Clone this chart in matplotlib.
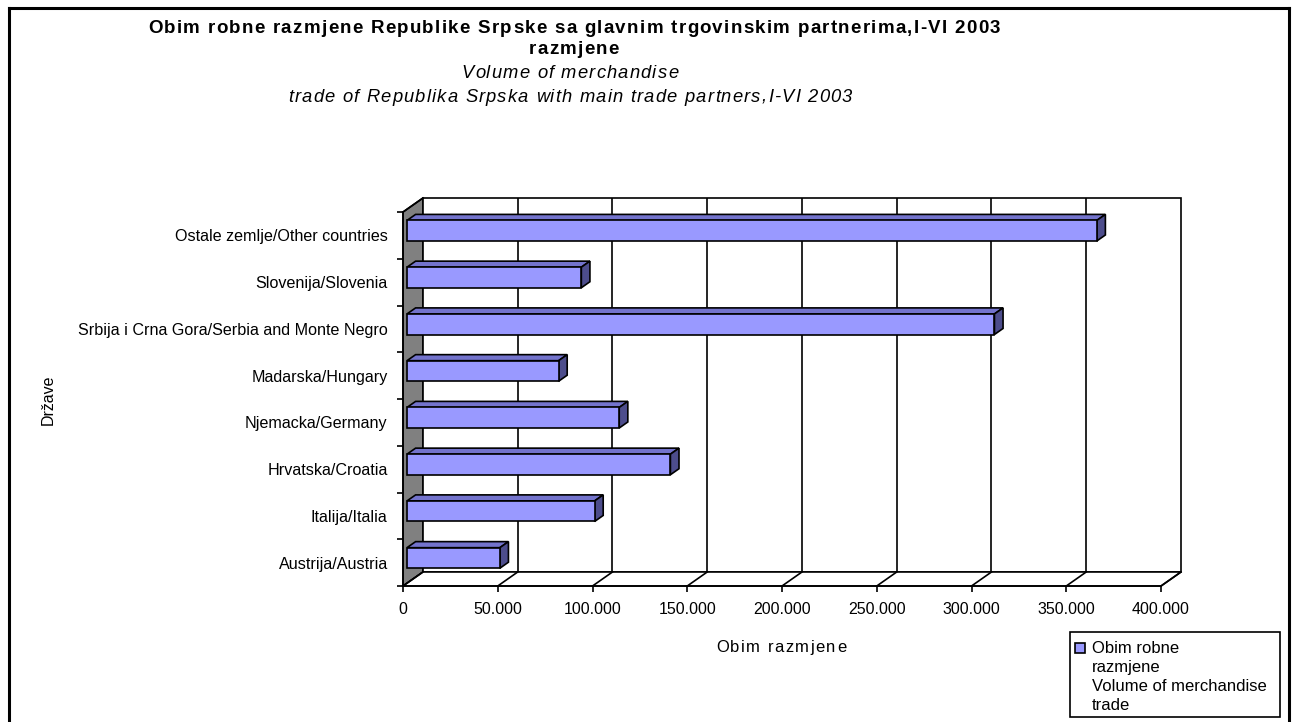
import matplotlib
matplotlib.use("Agg")
import matplotlib.pyplot as plt
from matplotlib.patches import Polygon, Rectangle
from matplotlib.lines import Line2D

plt.rcParams['font.family'] = ['Liberation Sans', 'DejaVu Sans']

# ---- data ----
categories = ["Austrija/Austria", "Italija/Italia", "Hrvatska/Croatia",
              "Njemacka/Germany", "Madarska/Hungary",
              "Srbija i Crna Gora/Serbia and Monte Negro",
              "Slovenija/Slovenia", "Ostale zemlje/Other countries"]
values = [49000, 99000, 139000, 112000, 80000, 310000, 92000, 364000]
xticks = [0, 50000, 100000, 150000, 200000, 250000, 300000, 350000, 400000]
xtick_labels = ["0", "50.000", "100.000", "150.000", "200.000", "250.000",
                "300.000", "350.000", "400.000"]
title_lines = ["Obim robne razmjene Republike Srpske sa glavnim trgovinskim partnerima,I-VI 2003",
               "razmjene"]
subtitle_lines = ["Volume of merchandise",
                  "trade of Republika Srpska with main trade partners,I-VI 2003"]
xlabel = "Obim razmjene"
ylabel = "Države"
legend_label = "Obim robne\nrazmjene\nVolume of merchandise\ntrade"

# ---- style ----
W, H = 1292, 722
front_col = "#9999FF"
top_col = "#7373CC"
side_col = "#4D4D8C"
wall_col = "#808080"
lw = 1.2

xmax = xticks[-1]
n = len(categories)
DX = 10540.0   # depth offset in value units
DY = 0.30      # depth offset in category units
f1, f2 = 0.20, 0.63
bh = 0.44

fig = plt.figure(figsize=(W / 100, H / 100), dpi=100)
renderer = fig.canvas.get_renderer()


def fx(px):
    return px / W


def fy(py):
    return 1 - py / H


def text_width(s, **kw):
    t = fig.text(0, 0, s, **kw)
    w = t.get_window_extent(renderer).width
    t.remove()
    return w


def spaced_text(xc, y_base, s, spacing, **kw):
    """Draw string s centred at pixel xc (baseline y_base) with extra letter spacing (px)."""
    bar_w = text_width("|", **kw)
    prefix = [0.0]
    for k in range(1, len(s) + 1):
        prefix.append(text_width(s[:k] + "|", **kw) - bar_w)
    total = prefix[-1] + spacing * (len(s) - 1)
    x0 = xc - total / 2
    for k, ch in enumerate(s):
        if ch == " ":
            continue
        fig.text(fx(x0 + prefix[k] + k * spacing), fy(y_base), ch,
                 ha="left", va="baseline", **kw)


def spacing_for(s, target, **kw):
    nat = text_width(s, **kw)
    return (target - nat) / (len(s) - 1)


ax = fig.add_axes([403 / W, (H - 586) / H, 778 / W, 388 / H])
ax.set_xlim(0, xmax + DX)
ax.set_ylim(0, n + DY)
for s in ax.spines.values():
    s.set_visible(False)
ax.patch.set_visible(False)

# left wall
ax.add_patch(Polygon([(0, 0), (DX, DY), (DX, n + DY), (0, n)], closed=True,
                     facecolor=wall_col, edgecolor="black", lw=lw, zorder=1, clip_on=False))
# back wall
ax.add_patch(Rectangle((DX, DY), xmax, n, facecolor="white", edgecolor="black",
                       lw=lw, zorder=1, clip_on=False))
for v in xticks[1:-1]:
    ax.add_line(Line2D([DX + v, DX + v], [DY, n + DY], color="black", lw=lw, zorder=2))
# floor
ax.add_patch(Polygon([(0, 0), (xmax, 0), (xmax + DX, DY), (DX, DY)], closed=True,
                     facecolor="white", edgecolor="black", lw=lw, zorder=2, clip_on=False))
for v in xticks:
    ax.add_line(Line2D([v, v + DX], [0, DY], color="black", lw=lw, zorder=2, clip_on=False))
# front axes lines
ax.add_line(Line2D([0, 0], [0, n], color="black", lw=lw, zorder=3, clip_on=False))
ax.add_line(Line2D([0, xmax], [0, 0], color="black", lw=lw, zorder=3, clip_on=False))
ax.add_line(Line2D([0, DX], [n, n + DY], color="black", lw=lw, zorder=3, clip_on=False))

# bars
ddx = (f2 - f1) * DX
ddy = (f2 - f1) * DY
for i, v in enumerate(values):
    c = i + 0.5 + 0.04
    x0 = f1 * DX
    yb = c - bh / 2 + f1 * DY
    yt = c + bh / 2 + f1 * DY
    ax.add_patch(Polygon([(x0, yt), (x0 + v, yt), (x0 + v + ddx, yt + ddy), (x0 + ddx, yt + ddy)],
                         closed=True, facecolor=top_col, edgecolor="black", lw=lw, zorder=4))
    ax.add_patch(Polygon([(x0 + v, yb), (x0 + v + ddx, yb + ddy), (x0 + v + ddx, yt + ddy), (x0 + v, yt)],
                         closed=True, facecolor=side_col, edgecolor="black", lw=lw, zorder=4))
    ax.add_patch(Rectangle((x0, yb), v, yt - yb, facecolor=front_col, edgecolor="black",
                           lw=lw, zorder=5))

# ticks
ax.set_xticks(xticks)
ax.set_xticklabels(xtick_labels, fontsize=11.5)
ax.tick_params(axis="x", direction="out", length=4.5, width=lw, pad=7)
ax.set_yticks(range(n + 1))
ax.set_yticklabels([])
ax.set_yticks([i + 0.5 for i in range(n)], minor=True)
ax.set_yticklabels(categories, minor=True, fontsize=11.6)
ax.tick_params(axis="y", which="major", direction="out", length=4.5, width=lw)
ax.tick_params(axis="y", which="minor", length=0, pad=11)

# axis titles
xl_kw = dict(fontsize=12)
spaced_text(781, 652, xlabel, spacing_for(xlabel, 130, **xl_kw), **xl_kw)
fig.text(fx(48), fy(400), ylabel, ha="center", va="center", rotation=90, fontsize=11.5)

# titles
bold_kw = dict(fontsize=13.5, fontweight="bold")
sp_b = spacing_for(title_lines[0], 852, **bold_kw)
spaced_text(574, 33, title_lines[0], sp_b, **bold_kw)
spaced_text(574, 54, title_lines[1], sp_b, **bold_kw)
ital_kw = dict(fontsize=13.2, style="italic")
sp_i = spacing_for(subtitle_lines[1], 564, **ital_kw)
spaced_text(570, 78, subtitle_lines[0], sp_i, **ital_kw)
spaced_text(570, 102, subtitle_lines[1], sp_i, **ital_kw)

# legend
fig.patches.append(Rectangle((fx(1070), fy(717)), 210 / W, 85 / H,
                             transform=fig.transFigure, facecolor="white",
                             edgecolor="black", lw=lw))
fig.patches.append(Rectangle((fx(1075), fy(653)), 10 / W, 10 / H,
                             transform=fig.transFigure, facecolor=front_col,
                             edgecolor="black", lw=lw))
fig.text(fx(1092), fy(641), legend_label, ha="left", va="top", fontsize=12,
         linespacing=1.33)

# outer border
fig.add_artist(Line2D([fx(9), fx(9)], [0, fy(8)], transform=fig.transFigure,
                      color="black", lw=2.2))
fig.add_artist(Line2D([fx(9), fx(1289)], [fy(8), fy(8)], transform=fig.transFigure,
                      color="black", lw=2.2))
fig.add_artist(Line2D([fx(1289), fx(1289)], [0, fy(8)], transform=fig.transFigure,
                      color="black", lw=2.2))

fig.savefig("out.png", dpi=100)
